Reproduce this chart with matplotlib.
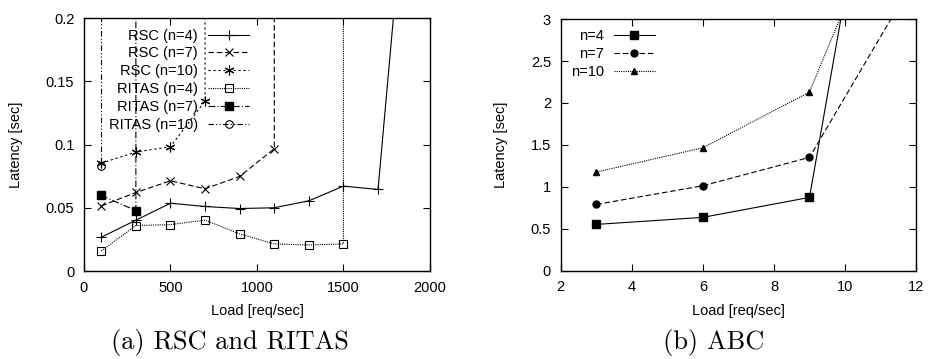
import matplotlib
matplotlib.use("Agg")
import matplotlib.pyplot as plt
from matplotlib.ticker import FormatStrFormatter, MultipleLocator

plt.rcParams['font.family'] = ['Liberation Sans', 'DejaVu Sans']
plt.rcParams['font.size'] = 10.5

# (a) RSC and RITAS -- last value of a series is off the top of the plot
rsc4_x = [100, 300, 500, 700, 900, 1100, 1300, 1500, 1700, 1900]
rsc4_y = [0.0267, 0.0402, 0.0536, 0.051, 0.0494, 0.050, 0.0555, 0.0671, 0.0645, 0.37]
rsc7_x = [100, 300, 500, 700, 900, 1100, 1100]
rsc7_y = [0.0515, 0.0621, 0.0713, 0.065, 0.0748, 0.0967, 1.0]
rsc10_x = [100, 300, 500, 700, 700]
rsc10_y = [0.0853, 0.094, 0.0983, 0.1345, 1.0]
ritas4_x = [100, 300, 500, 700, 900, 1100, 1300, 1500, 1500]
ritas4_y = [0.0159, 0.0359, 0.0367, 0.0402, 0.0293, 0.0214, 0.0206, 0.0214, 1.0]
ritas7_x = [100, 300, 300]
ritas7_y = [0.0597, 0.0478, 1.0]
ritas10_x = [100, 100]
ritas10_y = [0.083, 1.0]

# (b) ABC
abc_x = [3, 6, 9, 12]
abc4_y = [0.552, 0.636, 0.874, 8.1]
abc7_y = [0.79, 1.013, 1.351, 3.51]
abc10_y = [1.176, 1.466, 2.13, 5.2]

fig = plt.figure(figsize=(9.29, 3.59), dpi=100)
ax1 = fig.add_axes([0.0904, 0.2451, 0.3724, 0.7047])
ax2 = fig.add_axes([0.6036, 0.2459, 0.3825, 0.7010])

lw = 0.8
ax1.plot(rsc4_x, rsc4_y, color='k', lw=lw, ls='-', marker='+', ms=7, mew=0.8, label='RSC (n=4)')
ax1.plot(rsc7_x, rsc7_y, color='k', lw=lw, dashes=(5, 2.5), marker='x', ms=6, mew=0.8, label='RSC (n=7)')
ax1.plot(rsc10_x, rsc10_y, color='k', lw=lw, dashes=(2, 2.5), marker=(6, 2, 0), ms=7, mew=0.8, label='RSC (n=10)')
ax1.plot(ritas4_x, ritas4_y, color='k', lw=lw, dashes=(1, 1), marker='s', ms=6, mfc='none', mew=0.8, label='RITAS (n=4)')
ax1.plot(ritas7_x, ritas7_y, color='k', lw=lw, dashes=(6, 2, 1, 2), marker='s', ms=6, label='RITAS (n=7)')
ax1.plot(ritas10_x, ritas10_y, color='k', lw=lw, dashes=(5, 2, 1, 2, 1, 2), marker='o', ms=5.5, mfc='none', mew=0.8, label='RITAS (n=10)')

ax1.set_xlim(0, 2000)
ax1.set_ylim(0, 0.2)
ax1.xaxis.set_major_locator(MultipleLocator(500))
ax1.yaxis.set_major_locator(MultipleLocator(0.05))
ax1.yaxis.set_major_formatter(FormatStrFormatter('%g'))
ax1.set_xlabel('Load [req/sec]', labelpad=7)
ax1.set_ylabel('Latency [sec]', labelpad=16)
ax1.legend(loc='upper right', bbox_to_anchor=(0.477, 0.958), frameon=False, markerfirst=False,
           handlelength=2.8, handletextpad=0.7, labelspacing=0.26, borderaxespad=0, borderpad=0)

ax2.plot(abc_x, abc4_y, color='k', lw=lw, ls='-', marker='s', ms=6, label='n=4')
ax2.plot(abc_x, abc7_y, color='k', lw=lw, dashes=(5, 2.5), marker='o', ms=5, label='n=7')
ax2.plot(abc_x, abc10_y, color='k', lw=lw, dashes=(1, 1), marker='^', ms=4.5, label='n=10')

ax2.set_xlim(2, 12)
ax2.set_ylim(0, 3)
ax2.xaxis.set_major_locator(MultipleLocator(2))
ax2.yaxis.set_major_locator(MultipleLocator(0.5))
ax2.yaxis.set_major_formatter(FormatStrFormatter('%g'))
ax2.set_xlabel('Load [req/sec]', labelpad=7)
ax2.set_ylabel('Latency [sec]', labelpad=16)
ax2.legend(loc='upper right', bbox_to_anchor=(0.265, 0.96), frameon=False, markerfirst=False,
           handlelength=2.8, handletextpad=0.7, labelspacing=0.26, borderaxespad=0, borderpad=0)

for ax in (ax1, ax2):
    ax.tick_params(direction='in', length=5, width=0.8, top=True, right=True, pad=7)
    for s in ax.spines.values():
        s.set_linewidth(1.0)

fig.text(230 / 929, 1 - 342 / 359, '(a) RSC and RITAS', family='cmr10', fontsize=19, ha='center', va='center')
fig.text(714 / 929, 1 - 342 / 359, '(b) ABC', family='cmr10', fontsize=19, ha='center', va='center')

fig.savefig('out.png', dpi=100)
